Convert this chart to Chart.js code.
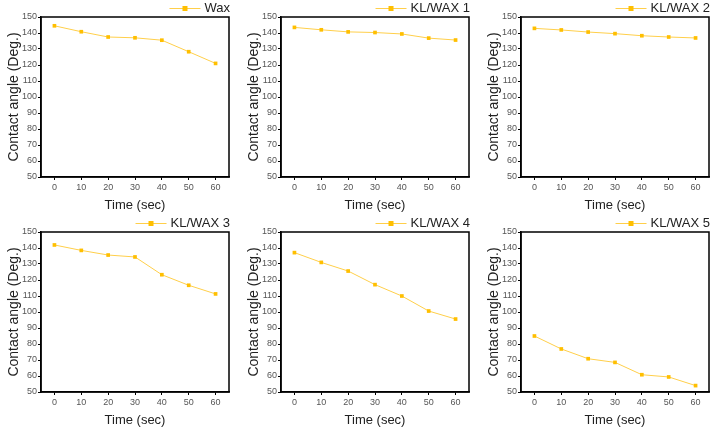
<!DOCTYPE html>
<html lang="en">
<head>
    <meta charset="UTF-8">
    <title>Contact angle vs time</title>
    <script src="https://cdn.jsdelivr.net/npm/chart.js"></script>
    <style>
        body {
            margin: 0;
            background: #ffffff;
            font-family: 'Liberation Sans', Arial, sans-serif;
        }
        .grid {
            position: relative;
            width: 722px;
            height: 430px;
        }
        .cell {
            position: absolute;
            width: 240px;
            height: 215px;
        }
    </style>
</head>
<body>
    <div class="grid" id="grid"></div>

    <script>
        // data
        const timeSec = [0, 10, 20, 30, 40, 50, 60];
        const xTicks = [0, 10, 20, 30, 40, 50, 60];
        const yTicks = [50, 60, 70, 80, 90, 100, 110, 120, 130, 140, 150];
        const sampleLabels = ['Wax', 'KL/WAX 1', 'KL/WAX 2', 'KL/WAX 3', 'KL/WAX 4', 'KL/WAX 5'];

        const waxAngle     = [144.5, 140.8, 137.5, 137.0, 135.5, 128.3, 121.0];
        const klWax1Angle  = [143.5, 142.0, 140.7, 140.3, 139.4, 136.8, 135.6];
        const klWax2Angle  = [142.9, 141.9, 140.6, 139.6, 138.3, 137.5, 136.9];
        const klWax3Angle  = [141.9, 138.5, 135.6, 134.4, 123.3, 116.7, 111.3];
        const klWax4Angle  = [137.1, 131.0, 125.6, 117.1, 110.0, 100.6, 95.6];
        const klWax5Angle  = [85.0, 76.9, 70.8, 68.5, 60.8, 59.4, 54.0];

        const allSeries = [waxAngle, klWax1Angle, klWax2Angle, klWax3Angle, klWax4Angle, klWax5Angle];

        const lineColor = '#FFCF4A';
        const markColor = '#FFBF00';

        // box around the plot + Origin-style legend at top right
        const framePlugin = {
            id: 'frame',
            afterDraw(chart) {
                const ctx = chart.ctx;
                const a = chart.chartArea;
                ctx.save();
                ctx.strokeStyle = '#000';
                ctx.lineWidth = 1.5;
                ctx.strokeRect(a.left, a.top, a.right - a.left, a.bottom - a.top);

                const label = chart.data.datasets[0].label;
                ctx.font = '13px "Liberation Sans", Arial, sans-serif';
                ctx.fillStyle = '#222';
                ctx.textBaseline = 'middle';
                ctx.textAlign = 'right';
                const y = 8.5;
                const textRight = a.right + 1;
                ctx.fillText(label, textRight, y);
                const w = ctx.measureText(label).width;
                const lx2 = textRight - w - 4;
                const lx1 = lx2 - 31;
                ctx.strokeStyle = lineColor;
                ctx.lineWidth = 1;
                ctx.beginPath();
                ctx.moveTo(lx1, y);
                ctx.lineTo(lx2, y);
                ctx.stroke();
                ctx.fillStyle = markColor;
                ctx.fillRect((lx1 + lx2) / 2 - 2.5, y - 2.5, 5, 5);
                ctx.restore();
            }
        };

        const positions = [
            [0, 0], [240, 0], [480, 0],
            [0, 215], [240, 215], [480, 215]
        ];

        const grid = document.getElementById('grid');

        sampleLabels.forEach((name, i) => {
            const cell = document.createElement('div');
            cell.className = 'cell';
            cell.style.left = positions[i][0] + 'px';
            cell.style.top = positions[i][1] + 'px';
            const canvas = document.createElement('canvas');
            cell.appendChild(canvas);
            grid.appendChild(cell);

            new Chart(canvas, {
                type: 'line',
                data: {
                    datasets: [{
                        label: name,
                        data: timeSec.map((t, k) => ({ x: t, y: allSeries[i][k] })),
                        borderColor: lineColor,
                        borderWidth: 1,
                        pointStyle: 'rect',
                        pointRadius: 2.6,
                        pointBackgroundColor: markColor,
                        pointBorderColor: markColor,
                        pointBorderWidth: 0,
                        tension: 0
                    }]
                },
                options: {
                    responsive: true,
                    maintainAspectRatio: false,
                    animation: false,
                    layout: { padding: { top: 17, right: 11, left: 0, bottom: 0 } },
                    plugins: {
                        legend: { display: false },
                        tooltip: { enabled: false }
                    },
                    scales: {
                        x: {
                            type: 'linear',
                            min: -5,
                            max: 65,
                            afterBuildTicks: s => { s.ticks = xTicks.map(v => ({ value: v })); },
                            afterFit: s => { s.height = 38; },
                            grid: {
                                drawOnChartArea: false,
                                drawTicks: true,
                                tickLength: 3,
                                color: '#000'
                            },
                            border: { color: '#000', width: 1.5 },
                            ticks: {
                                padding: 2,
                                color: '#555',
                                font: { size: 9, family: '"Liberation Sans", Arial, sans-serif' }
                            },
                            title: {
                                display: true,
                                text: 'Time (sec)',
                                color: '#222',
                                padding: { top: 0, bottom: 2 },
                                font: { size: 13, family: '"Liberation Sans", Arial, sans-serif' }
                            }
                        },
                        y: {
                            min: 50,
                            max: 150,
                            afterBuildTicks: s => { s.ticks = yTicks.map(v => ({ value: v })); },
                            afterFit: s => { s.width = 41; },
                            grid: {
                                drawOnChartArea: false,
                                drawTicks: true,
                                tickLength: 3,
                                color: '#000'
                            },
                            border: { color: '#000', width: 1.5 },
                            ticks: {
                                padding: 1,
                                color: '#555',
                                font: { size: 9, family: '"Liberation Sans", Arial, sans-serif' }
                            },
                            title: {
                                display: true,
                                text: 'Contact angle (Deg.)',
                                color: '#222',
                                padding: { top: 6, bottom: 0 },
                                font: { size: 14, family: '"Liberation Sans", Arial, sans-serif' }
                            }
                        }
                    }
                },
                plugins: [framePlugin]
            });
        });
    </script>
</body>
</html>
